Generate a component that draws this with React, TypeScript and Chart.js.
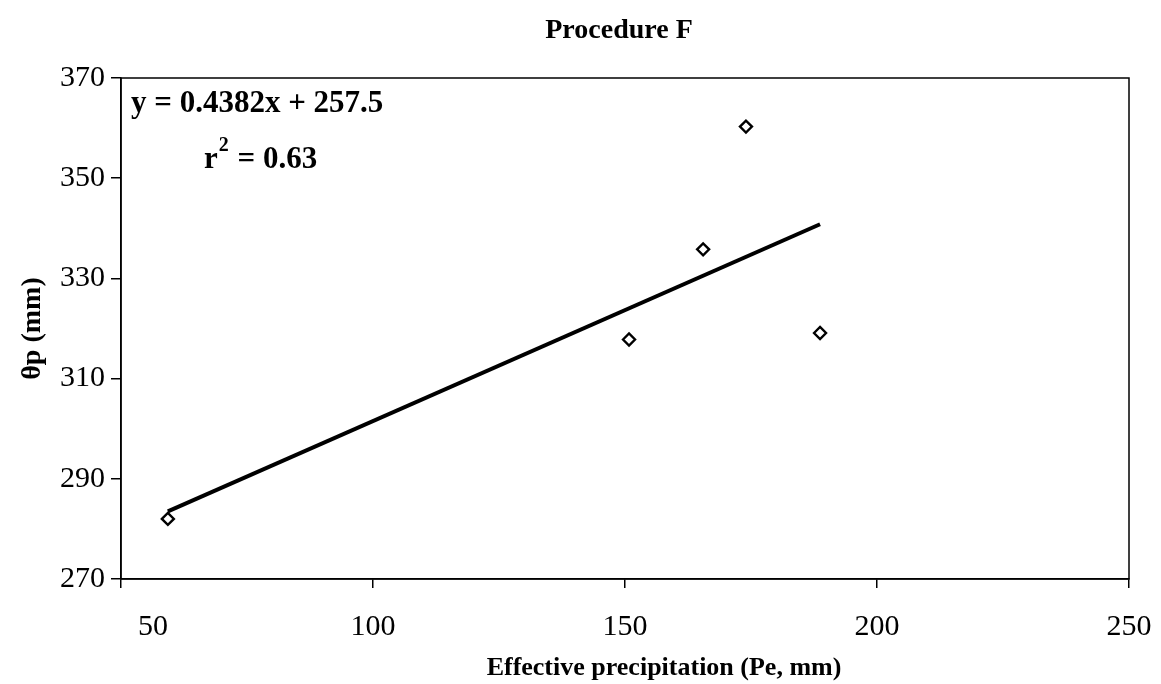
import React, { useEffect, useRef } from "react";
import { Chart, registerables } from "chart.js";

Chart.register(...registerables);

// ---- data ----
const pe: number[] = [59.3, 150.8, 165.5, 174.0, 188.7];
const theta: number[] = [282.0, 317.8, 335.8, 360.3, 319.1];
const trendPe: number[] = [59.3, 188.7];
const trendTheta: number[] = [283.5, 340.8];

const xMin = 50;
const xMax = 250;
const xStep = 50;
const xTickLabels: number[] = [50, 100, 150, 200, 250];
const yMin = 270;
const yMax = 370;
const yStep = 20;

const chartTitle = "Procedure F";
const xTitle = "Effective precipitation (Pe, mm)";
const yTitle = "θp (mm)";
const eqText = "y = 0.4382x + 257.5";
const r2Base = "r";
const r2Sup = "2";
const r2Rest = " = 0.63";

const SERIF = "'Liberation Serif', 'Times New Roman', serif";

const textPlugin = {
  id: "textPlugin",
  afterDraw(chart: any) {
    const { ctx, chartArea } = chart;
    const xs = chart.scales.x;
    ctx.save();
    // frame around plot
    ctx.strokeStyle = "#000";
    ctx.lineWidth = 1.5;
    ctx.strokeRect(
      chartArea.left,
      chartArea.top,
      chartArea.right - chartArea.left,
      chartArea.bottom - chartArea.top
    );
    ctx.fillStyle = "#000";
    ctx.textBaseline = "middle";
    ctx.textAlign = "center";
    // x tick labels (first one nudged right, as in the reference)
    ctx.font = `30px ${SERIF}`;
    xTickLabels.forEach((v, i) => {
      const px = xs.getPixelForValue(v) + (i === 0 ? 32 : 0);
      ctx.fillText(String(v), px, chartArea.bottom + 48);
    });
    // main title
    ctx.font = `bold 28px ${SERIF}`;
    ctx.fillText(chartTitle, 619, 31);
    // x title
    ctx.font = `bold 26px ${SERIF}`;
    ctx.fillText(xTitle, 664, 668);
    // equation
    ctx.textAlign = "left";
    ctx.font = `bold 31px ${SERIF}`;
    ctx.fillText(eqText, chartArea.left + 10, 104);
    // r^2
    const rx = 204;
    ctx.fillText(r2Base, rx, 160);
    const rw = ctx.measureText(r2Base).width;
    ctx.font = `bold 20px ${SERIF}`;
    ctx.fillText(r2Sup, rx + rw + 1, 146);
    const sw = ctx.measureText(r2Sup).width;
    ctx.font = `bold 31px ${SERIF}`;
    ctx.fillText(r2Rest, rx + rw + sw + 2, 160);
    ctx.restore();
  },
};

export default function App() {
  const ref = useRef<HTMLCanvasElement | null>(null);

  useEffect(() => {
    if (!ref.current) return;
    const chart = new Chart(ref.current, {
      type: "scatter",
      data: {
        datasets: [
          {
            type: "line",
            label: "trend",
            data: trendPe.map((x, i) => ({ x, y: trendTheta[i] })),
            borderColor: "#000",
            borderWidth: 4,
            pointRadius: 0,
            fill: false,
            order: 2,
          } as any,
          {
            label: "θp",
            data: pe.map((x, i) => ({ x, y: theta[i] })),
            pointStyle: "rectRot",
            pointRadius: 6,
            pointBorderWidth: 2.4,
            pointBorderColor: "#000",
            pointBackgroundColor: "#fff",
            showLine: false,
            order: 1,
          },
        ],
      },
      options: {
        animation: false,
        responsive: false,
        maintainAspectRatio: false,
        layout: { padding: { left: 0, right: 32, top: 78, bottom: 0 } },
        plugins: {
          legend: { display: false },
          title: { display: false },
          tooltip: { enabled: false },
        },
        scales: {
          x: {
            type: "linear",
            min: xMin,
            max: xMax,
            ticks: {
              stepSize: xStep,
              display: false,
            },
            grid: {
              display: true,
              drawOnChartArea: false,
              drawTicks: true,
              tickLength: 9,
              color: "#000",
              lineWidth: 1.5,
            },
            border: { display: true, color: "#000", width: 1.5 },
            title: { display: false },
            afterFit: (scale: any) => {
              scale.height = 105;
            },
          },
          y: {
            type: "linear",
            min: yMin,
            max: yMax,
            ticks: {
              stepSize: yStep,
              color: "#000",
              font: { family: SERIF, size: 30 },
              padding: 6,
            },
            grid: {
              display: true,
              drawOnChartArea: false,
              drawTicks: true,
              tickLength: 10,
              color: "#000",
              lineWidth: 1.5,
            },
            border: { display: true, color: "#000", width: 1.5 },
            title: {
              display: true,
              text: yTitle,
              color: "#000",
              font: { family: SERIF, size: 28, weight: "bold" },
              padding: { top: 16, bottom: 0 },
            },
            afterFit: (scale: any) => {
              scale.width = 121;
            },
          },
        },
      },
      plugins: [textPlugin],
    });
    return () => chart.destroy();
  }, []);

  return (
    <div
      style={{
        position: "fixed",
        left: 0,
        top: 0,
        width: 1161,
        height: 684,
        background: "#fff",
      }}
    >
      <canvas ref={ref} width={1161} height={684} style={{ display: "block" }} />
    </div>
  );
}
